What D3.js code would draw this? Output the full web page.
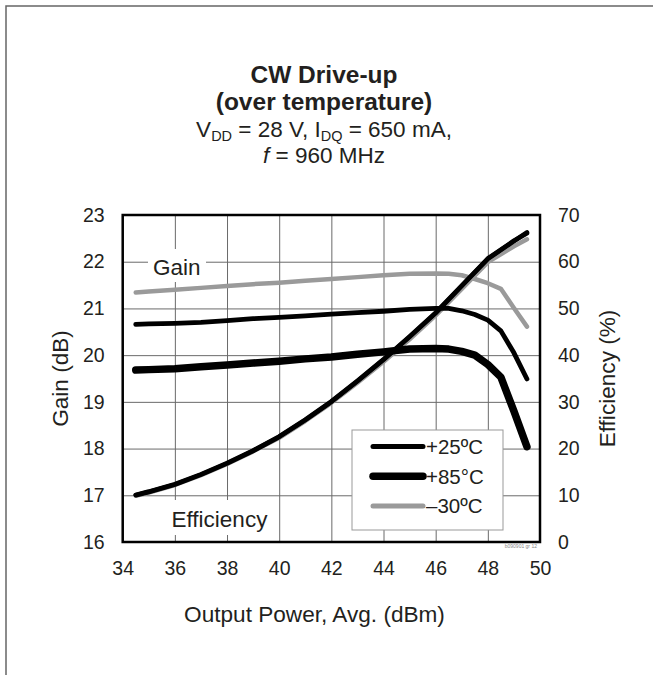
<!DOCTYPE html>
<html>
<head>
<meta charset="utf-8">
<script src="https://cdn.jsdelivr.net/npm/d3@7"></script>
<style>
  html, body { margin: 0; padding: 0; background: #fff; }
  svg { display: block; font-family: "Liberation Sans", Arial, sans-serif; }
</style>
</head>
<body>
<svg id="chart" width="653" height="675"></svg>
<script>
// CW drive-up over temperature: gain (left axis) and efficiency (right axis)

const power = [34.5, 35, 36, 37, 38, 39, 40, 41, 42, 43, 44, 45, 46, 46.5, 47, 47.5, 48, 48.5, 49, 49.5];
const gain25 = [20.66, 20.67, 20.68, 20.70, 20.74, 20.78, 20.81, 20.84, 20.88, 20.91, 20.94, 20.98, 21.00, 21.00, 20.95, 20.87, 20.75, 20.52, 20.05, 19.49];
const gain85 = [19.68, 19.69, 19.71, 19.75, 19.79, 19.83, 19.87, 19.92, 19.96, 20.02, 20.07, 20.13, 20.14, 20.13, 20.08, 20.00, 19.80, 19.53, 18.80, 18.04];
const gainM30 = [21.34, 21.36, 21.40, 21.44, 21.48, 21.52, 21.55, 21.59, 21.63, 21.67, 21.71, 21.74, 21.75, 21.74, 21.71, 21.63, 21.54, 21.42, 21.01, 20.61];

const effPower = [34.5, 35, 36, 37, 38, 39, 40, 41, 42, 43, 44, 45, 46, 47, 48, 49, 49.5];
const eff25 = [10.0, 10.7, 12.3, 14.4, 16.8, 19.5, 22.5, 26.1, 30.0, 34.4, 39.0, 43.9, 49.0, 54.8, 60.6, 64.4, 66.3];
const eff85 = [10.1, 10.8, 12.4, 14.5, 16.9, 19.6, 22.6, 26.2, 30.1, 34.5, 39.1, 44.0, 49.1, 54.9, 60.7, 64.5, 66.1];
const effM30 = [9.9, 10.6, 12.2, 14.3, 16.7, 19.4, 22.3, 25.9, 29.8, 34.1, 38.6, 43.4, 48.5, 54.2, 59.9, 63.3, 64.8];

const xTicks = [34, 36, 38, 40, 42, 44, 46, 48, 50];
const gainTicks = [16, 17, 18, 19, 20, 21, 22, 23];
const effTicks = [0, 10, 20, 30, 40, 50, 60, 70];

const legendItems = [
  { label: "+25ºC", color: "#000", width: 5 },
  { label: "+85°C", color: "#000", width: 7.5 },
  { label: "\u201330ºC", color: "#9a9a9a", width: 5 }
];

const ink = "#231f20";
const pLeft = 122.7, pRight = 540, pTop = 215, pBottom = 542;

const svg = d3.select("#chart");

// outer frame (only top/left edges fall inside the picture)
svg.append("rect")
  .attr("x", 6).attr("y", 6).attr("width", 700).attr("height", 700)
  .attr("fill", "none").attr("stroke", "#666").attr("stroke-width", 1.5);

const x = d3.scaleLinear().domain([34, 50]).range([pLeft, pRight]);
const yGain = d3.scaleLinear().domain([16, 23]).range([pBottom, pTop]);
const yEff = d3.scaleLinear().domain([0, 70]).range([pBottom, pTop]);

// grid
const grid = svg.append("g").attr("class", "grid");
grid.append("g")
  .attr("transform", `translate(0,${pBottom})`)
  .call(d3.axisBottom(x).tickValues(xTicks).tickSize(-(pBottom - pTop)).tickFormat(""))
  .call(g => g.select(".domain").remove());
grid.append("g")
  .attr("transform", `translate(${pLeft},0)`)
  .call(d3.axisLeft(yGain).tickValues(gainTicks).tickSize(-(pRight - pLeft)).tickFormat(""))
  .call(g => g.select(".domain").remove());
grid.selectAll("line").attr("stroke", "#6a6a6a").attr("stroke-width", 1);

// tick labels
const axX = svg.append("g")
  .attr("transform", `translate(0,${pBottom})`)
  .call(d3.axisBottom(x).tickValues(xTicks).tickSize(0).tickPadding(19).tickFormat(d3.format("d")));
const axL = svg.append("g")
  .attr("transform", `translate(${pLeft},0)`)
  .call(d3.axisLeft(yGain).tickValues(gainTicks).tickSize(0).tickPadding(18).tickFormat(d3.format("d")));
const axR = svg.append("g")
  .attr("transform", `translate(${pRight},0)`)
  .call(d3.axisRight(yEff).tickValues(effTicks).tickSize(0).tickPadding(18).tickFormat(d3.format("d")));
[axX, axL, axR].forEach(a => {
  a.select(".domain").remove();
  a.attr("font-family", null).attr("font-size", null);
  a.selectAll("text").attr("font-size", 19.5).attr("fill", ink);
});

// label backgrounds and in-plot labels
svg.append("rect").attr("x", 148).attr("y", 249).attr("width", 58).attr("height", 33).attr("fill", "#fff");
svg.append("text").attr("x", 153).attr("y", 275).attr("font-size", 22.5).attr("fill", ink).text("Gain");
svg.append("rect").attr("x", 166).attr("y", 500).attr("width", 108).attr("height", 35).attr("fill", "#fff");
svg.append("text").attr("x", 171.5).attr("y", 526.5).attr("font-size", 22.5).attr("fill", ink).text("Efficiency");

// series
const gainLine = d3.line().x((d, i) => x(power[i])).y(d => yGain(d));
const effLine = d3.line().x((d, i) => x(effPower[i])).y(d => yEff(d));
const plot = svg.append("g").attr("fill", "none")
  .attr("stroke-linecap", "round").attr("stroke-linejoin", "round");

plot.append("path").attr("d", gainLine(gainM30)).attr("stroke", "#9a9a9a").attr("stroke-width", 4.5);
plot.append("path").attr("d", effLine(effM30)).attr("stroke", "#9a9a9a").attr("stroke-width", 4.5);
plot.append("path").attr("d", gainLine(gain25)).attr("stroke", "#000").attr("stroke-width", 4.8);
plot.append("path").attr("d", gainLine(gain85)).attr("stroke", "#000").attr("stroke-width", 7.5);
plot.append("path").attr("d", effLine(eff85)).attr("stroke", "#000").attr("stroke-width", 4.5);
plot.append("path").attr("d", effLine(eff25)).attr("stroke", "#000").attr("stroke-width", 4.5);

// plot frame
svg.append("rect")
  .attr("x", pLeft).attr("y", pTop).attr("width", pRight - pLeft).attr("height", pBottom - pTop)
  .attr("fill", "none").attr("stroke", "#000").attr("stroke-width", 2.5);

// legend
const lg = svg.append("g").attr("transform", "translate(352,430)");
lg.append("rect").attr("width", 151).attr("height", 100)
  .attr("fill", "#fff").attr("stroke", "#999").attr("stroke-width", 1);
legendItems.forEach((d, i) => {
  const yy = 16.5 + i * 29.7;
  lg.append("line").attr("x1", 21).attr("x2", 71).attr("y1", yy).attr("y2", yy)
    .attr("stroke", d.color).attr("stroke-width", d.width).attr("stroke-linecap", "round");
  lg.append("text").attr("x", 74).attr("y", yy).attr("dy", "0.36em")
    .attr("font-size", 20.5).attr("fill", ink).text(d.label);
});

// tiny figure id
svg.append("text").attr("x", 537).attr("y", 548).attr("text-anchor", "end")
  .attr("font-size", 5).attr("fill", "#888").text("b090901 gr 12");

// titles
const cx = 324;
svg.append("text").attr("x", cx).attr("y", 83).attr("text-anchor", "middle")
  .attr("font-size", 24.5).attr("font-weight", "bold").attr("fill", ink).text("CW Drive-up");
svg.append("text").attr("x", cx).attr("y", 110).attr("text-anchor", "middle")
  .attr("font-size", 24.5).attr("font-weight", "bold").attr("fill", ink).text("(over temperature)");
const sub = svg.append("text").attr("x", cx).attr("y", 137).attr("text-anchor", "middle")
  .attr("font-size", 22.5).attr("fill", ink);
sub.append("tspan").text("V");
sub.append("tspan").attr("font-size", 14.5).attr("dy", 4).text("DD");
sub.append("tspan").attr("dy", -4).text(" = 28 V, I");
sub.append("tspan").attr("font-size", 14.5).attr("dy", 4).text("DQ");
sub.append("tspan").attr("dy", -4).text(" = 650 mA,");
const sub2 = svg.append("text").attr("x", cx).attr("y", 163).attr("text-anchor", "middle")
  .attr("font-size", 22.5).attr("fill", ink);
sub2.append("tspan").attr("font-style", "italic").text("f");
sub2.append("tspan").text(" = 960 MHz");

// axis titles
svg.append("text").attr("x", 314.5).attr("y", 622).attr("text-anchor", "middle")
  .attr("font-size", 22.6).attr("fill", ink).text("Output Power, Avg. (dBm)");
svg.append("text").attr("transform", `translate(68,${(pTop + pBottom) / 2}) rotate(-90)`)
  .attr("text-anchor", "middle").attr("font-size", 22.6).attr("fill", ink).text("Gain (dB)");
svg.append("text").attr("transform", `translate(615,${(pTop + pBottom) / 2}) rotate(-90)`)
  .attr("text-anchor", "middle").attr("font-size", 22.6).attr("fill", ink).text("Efficiency (%)");
</script>
</body>
</html>
